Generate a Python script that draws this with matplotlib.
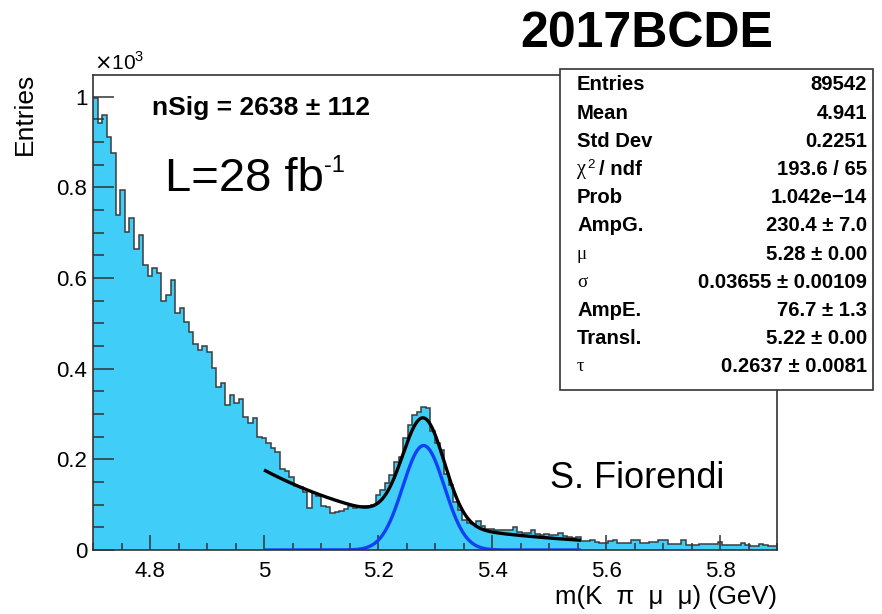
import numpy as np
import matplotlib.pyplot as plt
from matplotlib.patches import Rectangle
from matplotlib.ticker import MultipleLocator, FixedLocator, FixedFormatter

plt.rcParams['font.family'] = ['Liberation Sans', 'DejaVu Sans']

# m(K pi mu mu) histogram, 150 bins of 8 MeV from 4.7 to 5.9 GeV
x_lo, x_hi, n_bins = 4.7, 5.9, 150
counts = [
    998, 941, 960, 912, 877, 739, 794, 702, 732, 665,
    695, 629, 605, 622, 612, 550, 563, 596, 522, 533,
    504, 482, 455, 441, 451, 437, 401, 360, 369, 320,
    341, 324, 333, 294, 280, 291, 250, 247, 237, 225,
    217, 178, 174, 160, 142, 138, 129, 93, 125, 120,
    96, 94, 82, 84, 87, 90, 96, 92, 95, 97,
    96, 100, 121, 132, 148, 165, 195, 206, 247, 276,
    298, 305, 316, 314, 262, 236, 220, 168, 143, 107,
    88, 66, 60, 57, 63, 52, 47, 46, 44, 45,
    44, 45, 50, 40, 38, 37, 45, 36, 34, 35,
    33, 32, 38, 30, 28, 27, 28, 19, 20, 21,
    17, 15, 15, 20, 21, 16, 16, 15, 22, 21,
    16, 16, 17, 18, 21, 21, 14, 13, 14, 23,
    12, 11, 12, 13, 14, 13, 13, 18, 11, 11,
    12, 11, 16, 10, 9, 9, 13, 12, 8, 8,
]

# fit results: gaussian signal + exponential background
amp_g, mu, sigma = 230.4, 5.28, 0.03655
amp_e, transl, tau = 76.7, 5.22, 0.2637
fit_lo, fit_hi = 5.0, 5.556

stat_names = ["Entries", "Mean", "Std Dev", "chi2", "Prob", "AmpG.", "μ", "σ",
              "AmpE.", "Transl.", "τ"]
stat_values = ["89542", "4.941", "0.2251", "193.6 / 65", "1.042e\u221214",
               "230.4 \u00b1 7.0", "5.28 \u00b1 0.00", "0.03655 \u00b1 0.00109",
               "76.7 \u00b1 1.3", "5.22 \u00b1 0.00", "0.2637 \u00b1 0.0081"]

x_ticks = [4.8, 5.0, 5.2, 5.4, 5.6, 5.8]
x_tick_labels = ["4.8", "5", "5.2", "5.4", "5.6", "5.8"]
y_ticks = [0, 200, 400, 600, 800, 1000]
y_tick_labels = ["0", "0.2", "0.4", "0.6", "0.8", "1"]

W, H = 882, 614


def fxy(x, y):
    return x / W, 1 - y / H


def gaus(x):
    return amp_g * np.exp(-0.5 * ((x - mu) / sigma) ** 2)


def expo(x):
    return amp_e * np.exp(-(x - transl) / tau)


fig = plt.figure(figsize=(W / 100, H / 100), dpi=100)
ax = fig.add_axes([93 / W, 1 - 550 / H, (777 - 93) / W, (550 - 75) / H])

edges = np.linspace(x_lo, x_hi, n_bins + 1)
ax.stairs(counts, edges, fill=True, facecolor='#40CEF9', edgecolor='none', baseline=0)
ax.stairs(counts, edges, color='#3c3c3c', lw=1.1, baseline=None)

xf = np.linspace(fit_lo, fit_hi, 400)
ax.plot(xf, gaus(xf), color='#1240F5', lw=2.4, solid_capstyle='butt')
ax.plot(xf, gaus(xf) + expo(xf), color='black', lw=2.4, solid_capstyle='butt')

ax.set_xlim(x_lo, x_hi)
ax.set_ylim(0, 1048)

ax.xaxis.set_major_locator(FixedLocator(x_ticks))
ax.xaxis.set_major_formatter(FixedFormatter(x_tick_labels))
ax.xaxis.set_minor_locator(MultipleLocator(0.05))
ax.yaxis.set_major_locator(FixedLocator(y_ticks))
ax.yaxis.set_major_formatter(FixedFormatter(y_tick_labels))
ax.yaxis.set_minor_locator(MultipleLocator(50))

ax.tick_params(axis='both', which='both', direction='in', color='#333333',
               top=False, right=False, labelsize=16)
ax.tick_params(axis='x', which='major', length=11, width=1.1, pad=8)
ax.tick_params(axis='x', which='minor', length=5, width=1.1)
ax.tick_params(axis='y', which='major', length=15, width=1.1, pad=4)
ax.tick_params(axis='y', which='minor', length=8, width=1.1)
for s in ax.spines.values():
    s.set_color('#333333')
    s.set_linewidth(1.2)

# axis titles, ROOT style (at the axis ends)
fig.text(*fxy(777, 597), "m(K  \u03c0  \u03bc  \u03bc) (GeV)", fontsize=18.5,
         ha='right', va='center')
fig.text(*fxy(25, 73), "Entries", fontsize=19, rotation=90, ha='center', va='top')
fig.text(*fxy(94, 70), r"$\times$10$^{\mathregular{3}}$", fontsize=15, ha='left', va='baseline')

# annotations
fig.text(*fxy(520, 47), "2017BCDE", fontsize=36, fontweight='bold', ha='left', va='baseline')
fig.text(*fxy(152, 115), "nSig = 2638 \u00b1 112", fontsize=19, fontweight='bold',
         ha='left', va='baseline')
fig.text(*fxy(165, 191), "L=28 fb", fontsize=34, ha='left', va='baseline')
fig.text(*fxy(324, 172), "-1", fontsize=17, ha='left', va='baseline')
fig.text(*fxy(550, 488), "S. Fiorendi", fontsize=26, ha='left', va='baseline')

# stats box
x0, y0 = fxy(560, 390)
x1, y1 = fxy(873, 69)
fig.add_artist(Rectangle((x0, y0), x1 - x0, y1 - y0, transform=fig.transFigure,
                         facecolor='white', edgecolor='#333333', lw=1.2, zorder=5))
fs_box = 14.6
row_y0, row_dy = 85, 28.17
for i, (name, val) in enumerate(zip(stat_names, stat_values)):
    yy = row_y0 + i * row_dy
    if name == "chi2":
        fig.text(*fxy(577, yy), "\u03c7", fontsize=fs_box, family='Liberation Serif',
                 ha='left', va='center', zorder=6)
        fig.text(*fxy(587, yy - 5), "2", fontsize=9.5,
                 ha='left', va='center', zorder=6)
        fig.text(*fxy(599, yy), "/ ndf", fontsize=fs_box, fontweight='bold',
                 ha='left', va='center', zorder=6)
    elif name in ("μ", "σ", "τ"):
        fig.text(*fxy(577, yy), name, fontsize=fs_box - 1, family='Liberation Serif',
                 ha='left', va='center', zorder=6)
    else:
        fig.text(*fxy(577, yy), name, fontsize=fs_box, fontweight='bold',
                 ha='left', va='center', zorder=6)
    fig.text(*fxy(867, yy), val, fontsize=fs_box, fontweight='bold',
             ha='right', va='center', zorder=6)

fig.savefig('out.png', dpi=100)
